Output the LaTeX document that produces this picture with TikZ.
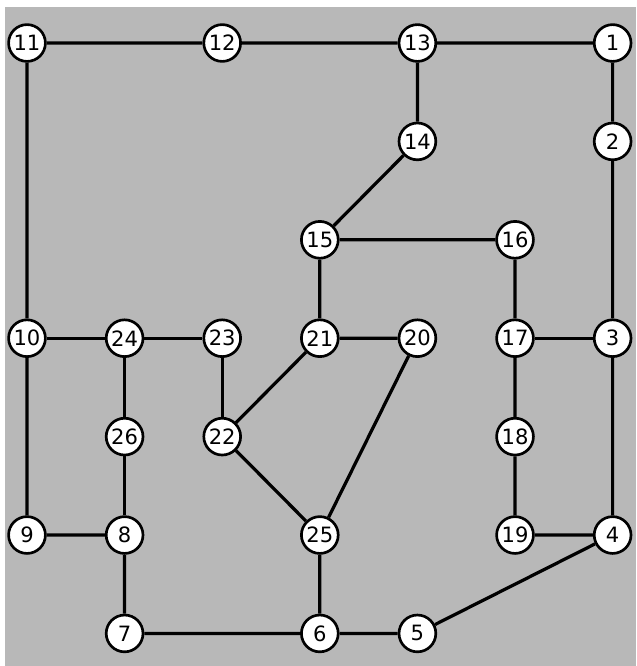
\documentclass[tikz,border=0pt]{standalone}
\usepackage{fontspec}
\setmainfont{DejaVu Sans}
\usepackage{tikz}
\usetikzlibrary{positioning}
\usepackage{xcolor}

\tikzset{
  vertex/.style={circle,draw=black,line width=1.9pt,fill=white,
    minimum size=0.92cm,inner sep=0pt,font=\fontsize{15}{15}\selectfont},
  link/.style={line width=2.3pt}
}

\begin{document}
\begin{tikzpicture}[x=2.44cm,y=-2.46cm]
\useasboundingbox (-0.2766,-0.437) rectangle (6.24,6.331);
\fill[black!28] (-0.225,-0.366) rectangle (6.24,6.331);
% outer ring
\node[vertex] (n1) at (6,0) {1};
\node[vertex] (n2) at (6,1) {2};
\node[vertex] (n3) at (6,3) {3};
\node[vertex] (n4) at (6,5) {4};
\node[vertex] (n5) at (4,6) {5};
\node[vertex] (n6) at (3,6) {6};
\node[vertex] (n7) at (1,6) {7};
\node[vertex] (n8) at (1,5) {8};
\node[vertex] (n9) at (0,5) {9};
\node[vertex] (n10) at (0,3) {10};
\node[vertex] (n11) at (0,0) {11};
\node[vertex] (n12) at (2,0) {12};
\node[vertex] (n13) at (4,0) {13};
% inside
\node[vertex] (n14) at (4,1) {14};
\node[vertex] (n15) at (3,2) {15};
\node[vertex] (n16) at (5,2) {16};
\node[vertex] (n17) at (5,3) {17};
\node[vertex] (n18) at (5,4) {18};
\node[vertex] (n19) at (5,5) {19};
\node[vertex] (n20) at (4,3) {20};
\node[vertex] (n21) at (3,3) {21};
\node[vertex] (n22) at (2,4) {22};
\node[vertex] (n23) at (2,3) {23};
\node[vertex] (n24) at (1,3) {24};
\node[vertex] (n25) at (3,5) {25};
\node[vertex] (n26) at (1,4) {26};
% edges
\draw[link] (n11) -- (n12) -- (n13) -- (n1) -- (n2) -- (n3) -- (n4) -- (n5)
  -- (n6) -- (n7) -- (n8) -- (n9) -- (n10) -- (n11);
\draw[link] (n13) -- (n14) -- (n15) -- (n16) -- (n17) -- (n18) -- (n19) -- (n4);
\draw[link] (n17) -- (n3);
\draw[link] (n15) -- (n21) -- (n20) -- (n25) -- (n6);
\draw[link] (n21) -- (n22) -- (n25);
\draw[link] (n10) -- (n24) -- (n23) -- (n22);
\draw[link] (n24) -- (n26) -- (n8);
\end{tikzpicture}
\end{document}
